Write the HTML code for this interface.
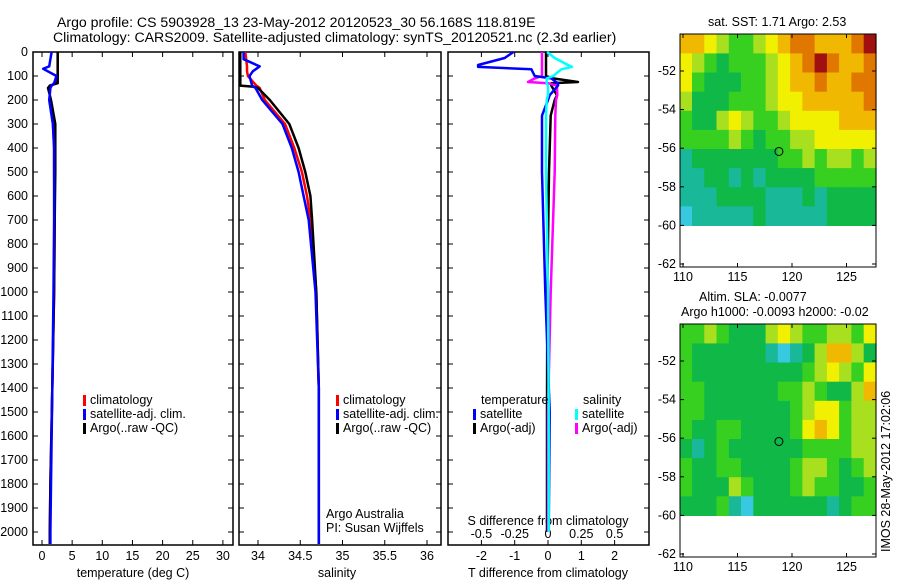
<!DOCTYPE html>
<html><head><meta charset="utf-8"><style>
body{margin:0;background:#fff;}
svg text{font-family:"Liberation Sans",sans-serif;font-size:12.5px;fill:#000;}
svg text.big{font-size:14.1px;}
</style></head><body>
<svg id="fig" width="900" height="580" xmlns="http://www.w3.org/2000/svg">
<text class="big" x="57" y="27">Argo profile: CS 5903928_13 23-May-2012 20120523_30 56.168S 118.819E</text>
<text class="big" x="53" y="42">Climatology: CARS2009. Satellite-adjusted climatology: synTS_20120521.nc (2.3d earlier)</text>
<text x="708" y="26">sat. SST: 1.71 Argo: 2.53</text>
<text x="699" y="301">Altim. SLA: -0.0077</text>
<text x="681" y="316">Argo h1000: -0.0093 h2000: -0.02</text>
<text transform="translate(890,552) rotate(-90)">IMOS 28-May-2012 17:02:06</text>
</svg>
<script>
// ---------- data ----------
const depthTicks=[0,100,200,300,400,500,600,700,800,900,1000,1100,1200,1300,1400,1500,1600,1700,1800,1900,2000];
const tempTicks=[0,5,10,15,20,25,30];
const salTicks=[34,34.5,35,35.5,36];
const tdTicks=[-2,-1,0,1,2];
const sdTicks=[-0.5,-0.25,0,0.25,0.5];
const tempDepth=[0,60,70,100,130,140,150,200,300,400,500,700,1000,1400,1800,2000,2050];
const tempArgo=[2.6,2.6,2.6,2.6,2.6,1.3,1.0,1.5,2.2,2.2,2.2,2.1,2.0,1.7,1.4,1.3,1.3];
const tempSat=[1.6,1.2,0.2,2.4,2.0,1.6,1.4,1.2,1.8,2.0,2.0,2.0,1.9,1.7,1.5,1.4,1.4];
const tempClim=[2.6,2.6,2.6,2.6,2.2,1.6,1.3,1.3,1.8,2.0,2.0,2.1,2.0,1.7,1.4,1.3,1.3];
const salDepth=[0,30,60,80,100,140,145,150,200,300,400,500,600,700,1000,1400,2000,2050];
const salArgo=[33.79,33.79,33.79,33.79,33.79,33.79,33.95,34.0,34.14,34.37,34.48,34.56,34.62,34.64,34.69,34.72,34.72,34.72];
const salSat=[33.83,33.83,34.02,33.94,33.9,33.93,33.95,33.97,34.05,34.29,34.4,34.48,34.54,34.6,34.68,34.72,34.72,34.72];
const salClim=[33.85,33.86,33.87,33.87,33.88,33.98,34.0,34.02,34.08,34.32,34.43,34.52,34.58,34.62,34.69,34.72,34.72,34.72];
const diffDepth=[0,25,54,62,72,100,110,125,130,140,180,200,265,500,1000,1500,2000];
const tdSat=[-1.04,-1.3,-2.1,-2.1,-0.5,-0.4,0.1,0.24,0.3,0.3,0.05,0.0,-0.18,-0.18,-0.08,0.05,0.02];
const tdArgo=[-0.06,-0.06,-0.06,-0.06,-0.06,-0.06,0.15,0.9,0.1,0.1,0.27,0.2,0.08,0.03,-0.02,-0.03,-0.03];
const sdSat=[-0.007,0.05,0.15,0.18,0.1,0.04,-0.01,-0.01,-0.01,0.0,0.0,-0.01,-0.015,-0.015,0.0,0.005,0.005];
const sdArgo=[-0.045,-0.045,-0.045,-0.045,-0.045,-0.045,-0.1,-0.15,0.0,0.067,0.07,0.06,0.055,0.05,0.02,0.0,0.0];
const lonTicks=[110,115,120,125];
const latTicks=[-52,-54,-56,-58,-60,-62];
const argoLon=118.8, argoLat=-56.17;
const sstGrid=[
[6,6,5,4,3,3,4,5,6,7,7,6,6,6,7,8],
[5,4,3,2,3,3,3,4,5,6,7,8,7,6,6,7],
[5,3,2,2,2,3,3,4,5,6,6,7,6,6,7,7],
[4,2,2,2,3,3,3,4,5,5,6,6,6,6,6,7],
[3,2,2,4,5,4,3,3,4,5,5,5,5,6,6,6],
[3,3,3,3,4,3,2,3,3,4,4,5,5,5,5,5],
[1,2,2,2,2,2,2,2,3,3,4,3,4,4,3,4],
[1,1,2,2,1,2,1,2,2,2,2,3,3,3,3,3],
[1,1,1,2,2,2,2,1,1,1,2,1,2,2,2,2],
[0,1,1,1,1,1,2,1,1,1,1,1,2,2,2,2]];
const slaGrid=[
[3,3,4,3,2,2,2,4,5,4,3,3,4,4,3,5],
[3,2,2,2,2,2,2,1,0,1,2,4,6,6,4,2],
[3,2,2,2,2,2,2,2,2,2,3,4,5,4,3,5],
[3,3,2,2,2,2,2,2,3,3,4,3,2,2,4,6],
[3,3,2,2,2,2,2,2,2,3,4,5,5,3,4,4],
[3,2,2,3,3,2,2,2,2,3,5,6,5,3,4,4],
[2,1,2,3,2,2,2,2,2,2,3,3,3,3,4,4],
[3,2,2,3,3,2,2,2,2,3,4,4,3,2,3,4],
[3,2,2,2,4,3,2,2,2,3,4,3,3,2,2,3],
[2,2,2,3,1,0,2,2,2,2,2,2,1,2,3,3]];
const palette=['#38c8e0','#18b898','#10b848','#38d020','#a8e020','#f0f000','#f0b800','#e07800','#a01010'];
// ---------- helpers ----------
const NS='http://www.w3.org/2000/svg';
const svg=document.getElementById('fig');
function mk(tag,attrs,name){const e=document.createElementNS(NS,tag);for(const k in attrs)e.setAttribute(k,attrs[k]);


svg.appendChild(e);return e;}
function txt(x,y,s,anchor,name){const t=mk('text',{x:x,y:y,'text-anchor':anchor||'start'},name);t.textContent=s;return t;}
const TOP=52, BOT=545;
const yD=d=>52+d*0.24;
const xT=v=>42+v*6.03;
const xS=v=>258+(v-34)*84.5;
const xTD=v=>548+v*33.3;
const xSD=v=>548+v*133.2;
function box(x0,x1,name){mk('rect',{x:x0,y:TOP,width:x1-x0,height:BOT-TOP,fill:'none',stroke:'#000','stroke-width':1.5},name);}
function line(xs,ys,fx,color,name){let p='';for(let i=0;i<xs.length;i++){p+=(i?'L':'M')+fx(xs[i]).toFixed(1)+' '+yD(ys[i]).toFixed(1);}
mk('path',{d:p,fill:'none',stroke:color,'stroke-width':2.5,'stroke-linejoin':'round'},name);}
function xticks(vals,fx,y,labY,name){vals.forEach(v=>{const x=fx(v);mk('line',{x1:x,x2:x,y1:BOT,y2:BOT-5,stroke:'#000'},name+'-tick');mk('line',{x1:x,x2:x,y1:TOP,y2:TOP+5,stroke:'#000'},name+'-tick-top');txt(x,labY,String(v),'middle',name+'-label');});}
// ---------- panels ----------
box(33,233,'temperature-panel');box(239,441,'salinity-panel');box(448,649,'difference-panel');
depthTicks.forEach(d=>{const y=yD(d);txt(28,y+4,String(d),'end','depth-tick-label');
[[33,1],[233,-1],[239,1],[441,-1],[448,1],[649,-1]].forEach(([x,s])=>mk('line',{x1:x,x2:x+5*s,y1:y,y2:y,stroke:'#000'},'depth-tick'));});
xticks(tempTicks,xT,BOT,560,'temp-axis');
xticks(salTicks,xS,BOT,560,'sal-axis');
xticks(tdTicks,xTD,BOT,560,'tdiff-axis');
sdTicks.forEach(v=>txt(xSD(v),538,String(v),'middle','sdiff-axis-label'));
txt(133,577,'temperature (deg C)','middle','temp-axis-title');
txt(337,577,'salinity','middle','sal-axis-title');
txt(548,577,'T difference from climatology','middle','tdiff-axis-title');
txt(548,525,'S difference from climatology','middle','sdiff-axis-title');
line(tempClim,tempDepth,xT,'#f00','temp-climatology-line');
line(tempArgo,tempDepth,xT,'#000','temp-argo-line');
line(tempSat,tempDepth,xT,'#00f','temp-satellite-line');
line(salClim,salDepth,xS,'#f00','sal-climatology-line');
line(salArgo,salDepth,xS,'#000','sal-argo-line');
line(salSat,salDepth,xS,'#00f','sal-satellite-line');
line(tdArgo,diffDepth,xTD,'#000','tdiff-argo-line');
line(sdArgo,diffDepth,xSD,'#f0f','sdiff-argo-line');
line(tdSat,diffDepth,xTD,'#00f','tdiff-satellite-line');
line(sdSat,diffDepth,xSD,'#0ff','sdiff-satellite-line');
function legend(x,y,items,name){items.forEach((it,i)=>{mk('rect',{x:x,y:y+i*14-9,width:3,height:11,fill:it[1]},name+'-swatch');txt(x+7,y+i*14,it[0],'start',name+'-entry');});}
legend(83,404,[['climatology','#f00'],['satellite-adj. clim.','#00f'],['Argo(..raw -QC)','#000']],'temp-legend');
legend(336,404,[['climatology','#f00'],['satellite-adj. clim.','#00f'],['Argo(..raw -QC)','#000']],'sal-legend');
txt(481,404,'temperature','start','tdiff-legend-title');
txt(583,404,'salinity','start','sdiff-legend-title');
legend(473,418,[['satellite','#00f'],['Argo(-adj)','#000']],'tdiff-legend');
legend(575,418,[['satellite','#0ff'],['Argo(-adj)','#f0f']],'sdiff-legend');
txt(326,518,'Argo Australia','start','credit-line-1');
txt(326,532,'PI: Susan Wijffels','start','credit-line-2');
// ---------- maps ----------
function map(top,grid,name){
  const L=680,R=876,bot=top+233;
  const xL=lon=>683+(lon-110)*10.9;
  const yL=lat=>top+37+(-52-lat)*19.3;
  const lon0=109.7,dlon=(127.7-109.7)/16,lat0=-50.1,dlat=(60-50.1)/10;
  grid.forEach((row,r)=>row.forEach((v,c)=>{
    const x0=xL(lon0+c*dlon),x1=xL(lon0+(c+1)*dlon),y0=yL(lat0-r*dlat),y1=yL(lat0-(r+1)*dlat);
    mk('rect',{x:x0.toFixed(1),y:y0.toFixed(1),width:(x1-x0+0.6).toFixed(1),height:(y1-y0+0.6).toFixed(1),fill:palette[v]},name+'-cell');}));
  mk('rect',{x:L,y:top,width:R-L,height:bot-top,fill:'none',stroke:'#000','stroke-width':1},name+'-frame');
  lonTicks.forEach(v=>{const x=xL(v);mk('line',{x1:x,x2:x,y1:bot,y2:bot-4,stroke:'#000'},name+'-lon-tick');mk('line',{x1:x,x2:x,y1:top,y2:top+4,stroke:'#000'},name+'-lon-tick-top');txt(x,bot+14,String(v),'middle',name+'-lon-label');});
  latTicks.forEach(v=>{const y=yL(v);mk('line',{x1:L,x2:L+4,y1:y,y2:y,stroke:'#000'},name+'-lat-tick');mk('line',{x1:R,x2:R-4,y1:y,y2:y,stroke:'#000'},name+'-lat-tick-right');txt(L-4,y+4,String(v),'end',name+'-lat-label');});
  mk('circle',{cx:xL(argoLon),cy:yL(argoLat),r:4,fill:'none',stroke:'#000','stroke-width':1},name+'-argo-marker');
}
map(34,sstGrid,'sst-map');
map(324,slaGrid,'sla-map');
</script>
</body></html>
